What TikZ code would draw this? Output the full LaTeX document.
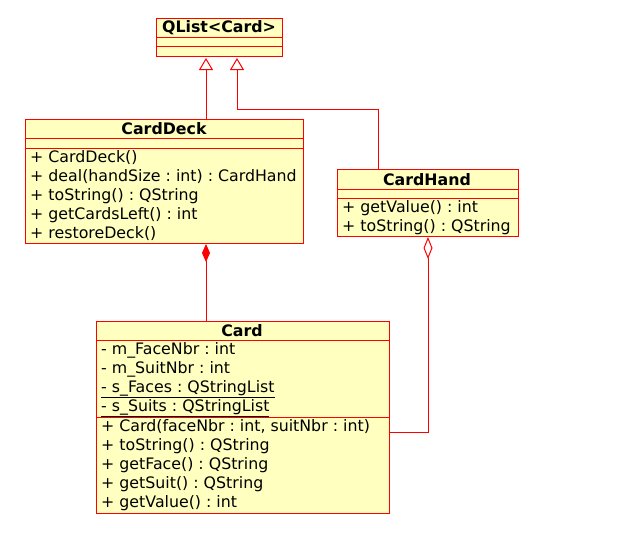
\documentclass[tikz,border=0pt]{standalone}
\usepackage{fontspec}
\setmainfont{DejaVu Sans}
\usetikzlibrary{arrows.meta}
\definecolor{umlfill}{RGB}{255,255,192}
\frenchspacing

\begin{document}
\begin{tikzpicture}[x=1pt,y=-1pt,font=\fontsize{15.8}{19}\selectfont,
    cls/.style={draw=red,fill=umlfill,line width=1pt,anchor=north west,inner sep=0pt},
    row/.style={anchor=base west,inner sep=0pt},
    ttl/.style={anchor=base,inner sep=0pt,font=\fontsize{15.8}{19}\selectfont\bfseries},
    sep/.style={draw=red,line width=1pt},
    link/.style={draw=red,line width=1pt}]
    \useasboundingbox (0,0) rectangle (618,535);
    % classes
    \node[cls,minimum width=126,minimum height=38] (qlist) at (156,18) {};
    \node[cls,minimum width=278,minimum height=124] (deck) at (25,119) {};
    \node[cls,minimum width=181,minimum height=67] (hand) at (337,169) {};
    \node[cls,minimum width=293,minimum height=192] (card) at (96,321) {};
    
    \draw[sep] (156,38) -- (282,38);
    \draw[sep] (156,47) -- (282,47);
    \draw[sep] (25,138) -- (303,138);
    \draw[sep] (25,148) -- (303,148);
    \draw[sep] (337,189) -- (518,189);
    \draw[sep] (337,198) -- (518,198);
    \draw[sep] (96,340) -- (389,340);
    \draw[sep] (96,417) -- (389,417);
    
    \node[ttl] (qt) at (219,33) {QList<Card>};
    \node[ttl] (dt) at (164,134) {CardDeck};
    \node[ttl] (ht) at (427,185) {CardHand};
    \node[ttl] (ct) at (242,336) {Card};
    
    \node[row] (d1) at (30,162) {+ CardDeck()};
    \node[row] (d2) at (30,181) {+ deal(handSize : int) : CardHand};
    \node[row] (d3) at (30,200) {+ toString() : QString};
    \node[row] (d4) at (30,219) {+ getCardsLeft() : int};
    \node[row] (d5) at (30,238) {+ restoreDeck()};
    
    \node[row] (h1) at (342,212) {+ getValue() : int};
    \node[row] (h2) at (342,231) {+ toString() : QString};
    
    \node[row] (a1) at (101,354) {- m\_FaceNbr : int};
    \node[row] (a2) at (101,373) {- m\_SuitNbr : int};
    \node[row] (a3) at (101,392) {\underline{- s\_Faces : QStringList}};
    \node[row] (a4) at (101,411) {\underline{- s\_Suits : QStringList}};
    \node[row] (c1) at (101,431) {+ Card(faceNbr : int, suitNbr : int)};
    \node[row] (c2) at (101,450) {+ toString() : QString};
    \node[row] (c3) at (101,469) {+ getFace() : QString};
    \node[row] (c4) at (101,488) {+ getSuit() : QString};
    \node[row] (c5) at (101,507) {+ getValue() : int};
    
    % connectors
    \coordinate (tipA) at (206,58);
    \coordinate (tipB) at (237,58);
    \coordinate (bend) at (378,109);
    \coordinate (aggx) at (428,432);
    \draw[link,-{Triangle[open,width=14pt,length=12pt]}] (deck.north -| tipA) -- (tipA);
    \draw[link,-{Triangle[open,width=14pt,length=12pt]}] (hand.north -| bend) -- (bend) -- (bend -| tipB) -- (tipB);
    \draw[link,{Diamond[width=8pt,length=18pt]}-] (deck.south -| tipA) -- (card.north -| tipA);
    \draw[link,{Diamond[open,width=9pt,length=22pt]}-] (hand.south -| aggx) -- (aggx) -- (aggx -| card.east);
\end{tikzpicture}
\end{document}
